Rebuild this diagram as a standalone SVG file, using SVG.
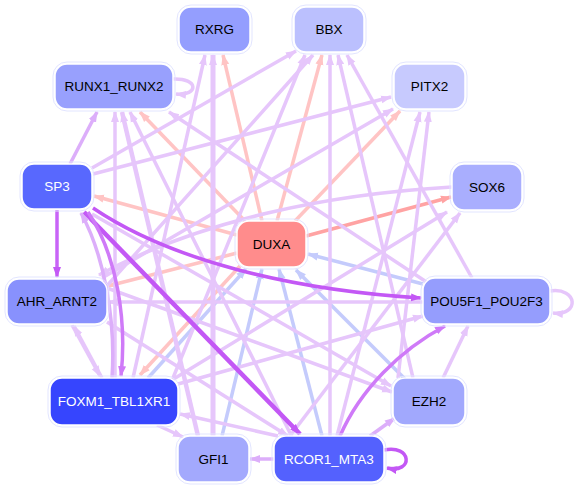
<svg xmlns="http://www.w3.org/2000/svg" width="580" height="489" viewBox="0 0 580 489">
<defs>
<marker id="mL" markerUnits="userSpaceOnUse" markerWidth="12" markerHeight="10" refX="10" refY="5" orient="auto"><path d="M0,1 L11,5 L0,9 z" fill="#e6c6fb"/></marker>
<marker id="mM" markerUnits="userSpaceOnUse" markerWidth="12" markerHeight="10" refX="10" refY="5" orient="auto"><path d="M0,1 L11,5 L0,9 z" fill="#dcaefa"/></marker>
<marker id="mB" markerUnits="userSpaceOnUse" markerWidth="12" markerHeight="10" refX="10" refY="5" orient="auto"><path d="M0,1 L11,5 L0,9 z" fill="#c358f5"/></marker>
<marker id="mB2" markerUnits="userSpaceOnUse" markerWidth="12" markerHeight="10" refX="10" refY="5" orient="auto"><path d="M0,1 L11,5 L0,9 z" fill="#cf7af8"/></marker>
<marker id="mP" markerUnits="userSpaceOnUse" markerWidth="12" markerHeight="10" refX="10" refY="5" orient="auto"><path d="M0,1 L11,5 L0,9 z" fill="#ffc4c4"/></marker>
<marker id="mS" markerUnits="userSpaceOnUse" markerWidth="12" markerHeight="10" refX="10" refY="5" orient="auto"><path d="M0,1 L11,5 L0,9 z" fill="#ffa3a3"/></marker>
<marker id="mBl" markerUnits="userSpaceOnUse" markerWidth="12" markerHeight="10" refX="10" refY="5" orient="auto"><path d="M0,1 L11,5 L0,9 z" fill="#c4cbfc"/></marker>
</defs>
<style>
.e path{fill:none;stroke-width:3.5}
.e1{stroke:#e6c6fb;marker-end:url(#mL)}
.e2{stroke:#dcaefa;marker-end:url(#mM)}
.eb{stroke:#c358f5;marker-end:url(#mB)}
.eb2{stroke:#cf7af8;marker-end:url(#mB2)}
.ep{stroke:#ffc4c4;marker-end:url(#mP)}
.es{stroke:#ffa3a3;marker-end:url(#mS)}
.ebl{stroke:#c4cbfc;marker-end:url(#mBl)}
.n rect.o{fill:none;stroke:#e2e5ff;stroke-width:1}
.n rect.b{stroke:#ffffff;stroke-width:1.5}
.n text{font-family:"Liberation Sans",Arial,sans-serif;font-size:13.5px;text-anchor:middle;dominant-baseline:central;fill:#000}
.n text.w{fill:#ffffff}
</style>
<g id="edges" class="e">
<path class="ep" d="M262,221 L223,55"/>
<path class="ep" d="M277,221 L322,55"/>
<path class="ep" d="M295,221 L400,111"/>
<path class="ep" d="M245,221 L140,112"/>
<path class="ep" d="M237,235 L94,196"/>
<path class="es" d="M306,236 L451,197"/>
<path class="ep" d="M237,253 L108,286"/>
<path class="ep" d="M240,266 L140,375"/>
<path class="ebl" d="M148,378 L246,269"/>
<path class="ebl" d="M222,436 L262,269"/>
<path class="ebl" d="M322,436 L279,269"/>
<path class="ebl" d="M405,379 L296,270"/>
<path class="ebl" d="M423,284 L308,254"/>
<path class="e2" d="M70,164 L97,112"/>
<path class="e1" d="M115,378 L115,112"/>
<path class="e1" d="M198,436 L122,112" style="stroke-width:4.5"/>
<path class="e1" d="M292,437 L130,112"/>
<path class="e1" d="M428,283 L169,112"/>
<path class="e1" d="M133,378 L205,55"/>
<path class="e1" d="M213,436 L213,55" style="stroke-width:5"/>
<path class="e1" d="M92,168 L296,51"/>
<path class="e1" d="M173,378 L305,55"/>
<path class="e1" d="M105,288 L313,55"/>
<path class="e1" d="M330,436 L330,55"/>
<path class="e1" d="M413,378 L338,55"/>
<path class="e1" d="M472,278 L347,55"/>
<path class="e1" d="M93,174 L391,97"/>
<path class="e1" d="M102,278 L393,109"/>
<path class="e1" d="M337,436 L420,112"/>
<path class="e1" d="M398,378 L429,112"/>
<path class="e1" d="M290,436 L460,213"/>
<path class="e1" d="M172,380 L447,212"/>
<path class="e1" d="M178,384 L423,316"/>
<path class="e1" d="M452,187 C330,194 200,220 99,275"/>
<path class="e1" d="M423,302 L108,302"/>
<path class="e1" d="M72,325 L100,376"/>
<path class="e1" d="M102,378 L74,326"/>
<path class="e1" d="M157,425 L183,437"/>
<path class="e2" d="M274,459 L250,459"/>
<path class="e1" d="M278,436 L180,414"/>
<path class="e2" d="M370,436 L395,418"/>
<path class="e1" d="M443,378 L468,326"/>
<path class="e1" d="M92,214 L391,386"/>
<path class="e1" d="M107,288 L392,392"/>
<path class="e1" d="M107,322 L288,436"/>
<path class="e1" d="M173,79 C199,78 199,96 176,94"/>
<path class="e1" d="M550,291 C578,287 580,316 553,313"/>
<path class="eb" d="M57,210 L57,277" style="stroke:#c864f7"/>
<path class="eb" d="M84,212 L300,434" style="stroke-width:4.5"/>
<path class="eb" d="M93,208 C170,260 290,290 421,298"/>
<path class="eb2" d="M340,436 C360,390 400,350 445,326"/>
<path class="e2" d="M112,378 C116,320 104,255 81,213"/>
<path class="eb2" d="M88,212 C117,255 127,320 121,376"/>
<path class="eb" d="M384,450 C412,444 414,474 387,468"/>
</g>
<g id="RXRG" class="n"><rect class="o" x="177" y="5" width="75" height="49" rx="14"/><rect class="b" x="179" y="7" width="71" height="45" rx="12" fill="#949efe"/><text x="214.5" y="29.5">RXRG</text></g>
<g id="BBX" class="n"><rect class="o" x="292" y="5" width="74" height="49" rx="14"/><rect class="b" x="294" y="7" width="70" height="45" rx="12" fill="#bbc0fe"/><text x="329" y="29.5">BBX</text></g>
<g id="PITX2" class="n"><rect class="o" x="392" y="62" width="75" height="49" rx="14"/><rect class="b" x="394" y="64" width="71" height="45" rx="12" fill="#c7cafe"/><text x="429.5" y="86.5">PITX2</text></g>
<g id="RUNX1_RUNX2" class="n"><rect class="o" x="53" y="62" width="122" height="49" rx="14"/><rect class="b" x="55" y="64" width="118" height="45" rx="12" fill="#98a0fd"/><text x="114" y="86.5">RUNX1_RUNX2</text></g>
<g id="SP3" class="n"><rect class="o" x="20" y="162" width="74" height="49" rx="14"/><rect class="b" x="22" y="164" width="70" height="45" rx="12" fill="#5868fe"/><text class="w" x="57" y="186.5">SP3</text></g>
<g id="SOX6" class="n"><rect class="o" x="450" y="162" width="74" height="50" rx="14"/><rect class="b" x="452" y="164" width="70" height="46" rx="12" fill="#a9aefe"/><text x="487" y="187">SOX6</text></g>
<g id="AHR_ARNT2" class="n"><rect class="o" x="5" y="277" width="104" height="49" rx="14"/><rect class="b" x="7" y="279" width="100" height="45" rx="12" fill="#8891fd"/><text x="57" y="301.5">AHR_ARNT2</text></g>
<g id="DUXA" class="n"><rect class="o" x="235" y="219" width="73" height="50" rx="14"/><rect class="b" x="237" y="221" width="69" height="46" rx="12" fill="#ff8c8c"/><text x="271.5" y="244">DUXA</text></g>
<g id="POU5F1_POU2F3" class="n"><rect class="o" x="421" y="276" width="131" height="50" rx="14"/><rect class="b" x="423" y="278" width="127" height="46" rx="12" fill="#959dfd"/><text x="486.5" y="301">POU5F1_POU2F3</text></g>
<g id="FOXM1_TBL1XR1" class="n"><rect class="o" x="48" y="376" width="132" height="51" rx="14"/><rect class="b" x="50" y="378" width="128" height="47" rx="12" fill="#3645fe"/><text class="w" x="114" y="401.5">FOXM1_TBL1XR1</text></g>
<g id="GFI1" class="n"><rect class="o" x="176" y="434" width="75" height="50" rx="14"/><rect class="b" x="178" y="436" width="71" height="46" rx="12" fill="#a3a9fd"/><text x="213.5" y="459">GFI1</text></g>
<g id="RCOR1_MTA3" class="n"><rect class="o" x="272" y="434" width="114" height="50" rx="14"/><rect class="b" x="274" y="436" width="110" height="46" rx="12" fill="#5461fe"/><text class="w" x="329" y="459">RCOR1_MTA3</text></g>
<g id="EZH2" class="n"><rect class="o" x="391" y="376" width="76" height="51" rx="14"/><rect class="b" x="393" y="378" width="72" height="47" rx="12" fill="#a1a8fd"/><text x="429" y="401.5">EZH2</text></g>
</svg>
